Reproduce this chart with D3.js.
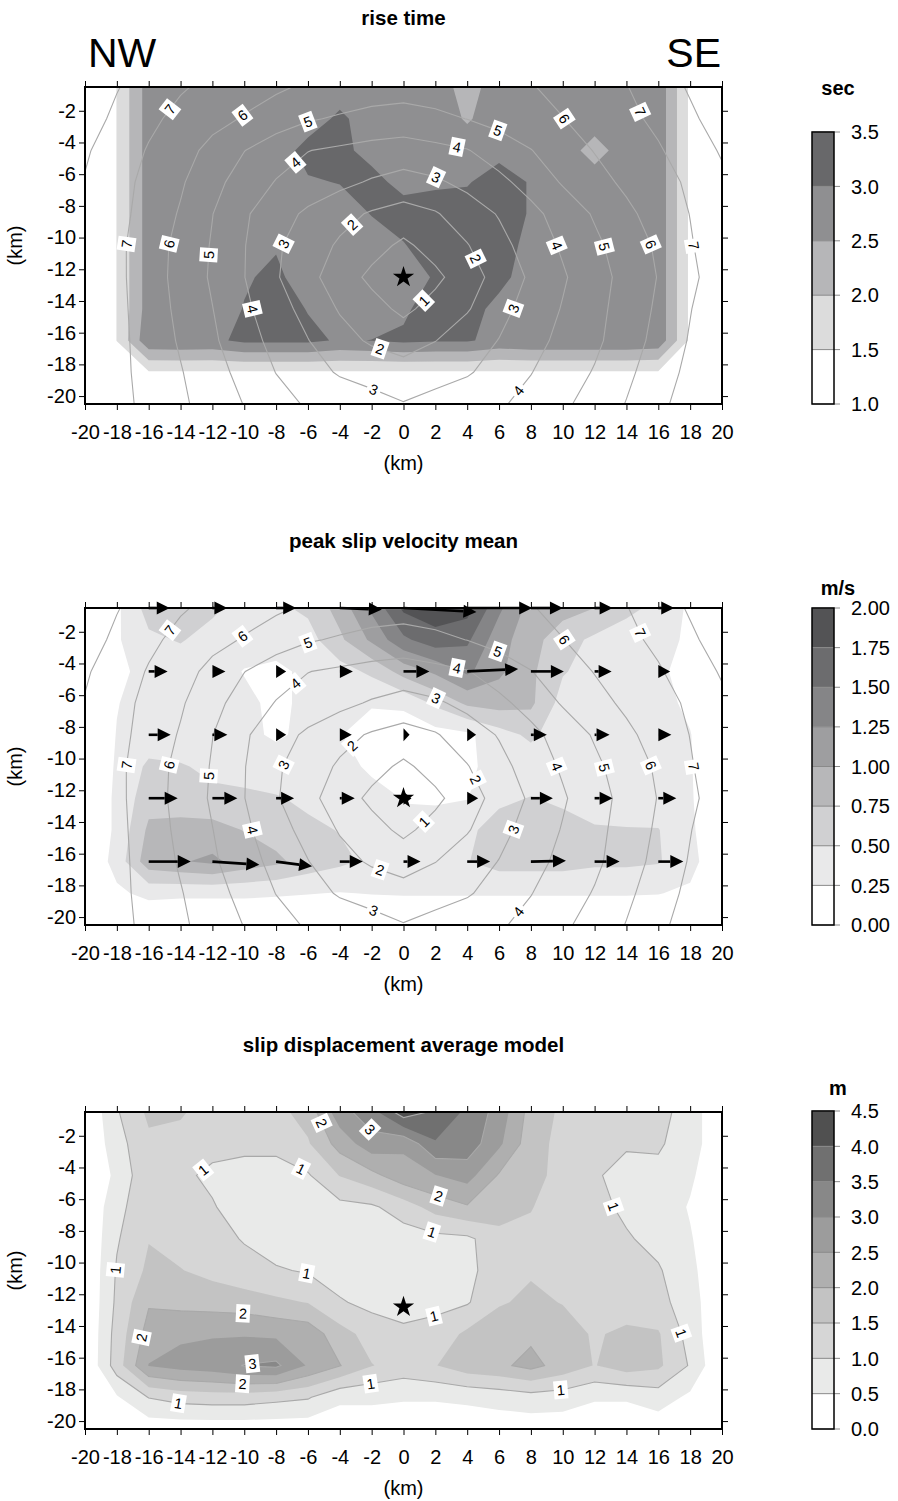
<!DOCTYPE html>
<html>
<head>
<meta charset="utf-8">
<script src="https://cdn.jsdelivr.net/npm/d3@7"></script>
<style>
	body { margin: 0; background: #fff; }
	svg { display: block; font-family: "Liberation Sans", Arial, Helvetica, sans-serif; }
</style>
</head>
<body>
<div id="chart"></div>
<script>
// Grid nodes (km along strike, km depth)
const gridX = [-20, -18, -16, -14, -12, -10, -8, -6, -4, -2, 0, 2, 4, 6, 8, 10, 12, 14, 16, 18, 20];
const gridZ = [-0.5, -2.5, -4.5, -6.5, -8.5, -10.5, -12.5, -14.5, -16.5, -18.5, -20.5];

// rupture time (s), drawn as lines in the two upper panels
const ruptureTime = [
	[8.5, 8.05, 7.57, 7.1, 6.76, 6.45, 6.15, 5.85, 5.7, 5.55, 5.45, 5.55, 5.65, 5.8, 5.95, 6.24, 6.6, 6.96, 7.55, 8.1, 8.6],
	[8.4, 7.81, 7.22, 6.72, 6.32, 5.92, 5.51, 5.1, 4.88, 4.65, 4.55, 4.75, 5.02, 5.33, 5.66, 5.98, 6.37, 6.75, 7.22, 7.84, 8.4],
	[8.1, 7.57, 6.92, 6.41, 5.7, 5.02, 4.44, 4.02, 3.85, 3.7, 3.6, 3.75, 3.95, 4.47, 4.97, 5.53, 6.04, 6.47, 6.9, 7.48, 8.1],
	[7.95, 7.36, 6.73, 6.12, 5.3, 4.57, 3.95, 3.6, 3.26, 2.9, 2.6, 2.85, 3.27, 3.76, 4.37, 5.09, 5.66, 6.19, 6.65, 7.15, 7.8],
	[7.95, 7.3, 6.62, 5.91, 5.02, 4.13, 3.43, 2.82, 2.31, 1.9, 1.64, 1.92, 2.49, 3.07, 3.73, 4.41, 5.1, 5.79, 6.41, 7.02, 7.6],
	[7.9, 7.22, 6.48, 5.72, 4.92, 4.04, 3.14, 2.47, 1.87, 1.37, 0.8, 1.4, 1.95, 2.69, 3.43, 4.13, 4.8, 5.47, 6.15, 6.92, 7.6],
	[7.95, 7.23, 6.46, 5.68, 4.87, 4.02, 3.09, 2.28, 1.52, 0.77, 0, 0.77, 1.56, 2.36, 3.15, 3.89, 4.6, 5.32, 6.04, 6.8, 7.5],
	[7.95, 7.26, 6.52, 5.77, 5.02, 4.2, 3.42, 2.65, 1.92, 1.38, 0.77, 1.38, 1.92, 2.68, 3.4, 4.06, 4.71, 5.41, 6.16, 6.96, 7.7],
	[7.95, 7.28, 6.59, 5.89, 5.15, 4.41, 3.7, 3.03, 2.34, 1.87, 1.6, 1.98, 2.51, 3.03, 3.66, 4.25, 4.8, 5.52, 6.31, 7.08, 7.8],
	[7.95, 7.27, 6.67, 6.06, 5.38, 4.69, 3.98, 3.39, 2.9, 2.65, 2.38, 2.63, 2.9, 3.4, 3.97, 4.51, 5.07, 5.79, 6.52, 7.25, 7.9],
	[7.9, 7.31, 6.74, 6.17, 5.58, 4.97, 4.36, 3.89, 3.6, 3.33, 3.05, 3.33, 3.6, 3.88, 4.31, 4.82, 5.4, 6.04, 6.75, 7.46, 7.9],
];
const ruptureLevels = [1, 2, 3, 4, 5, 6, 7, 8];

// rise time (s)
const riseTime = [
	[0, 1.52, 2.75, 2.75, 2.75, 2.75, 2.75, 2.75, 2.75, 2.75, 2.75, 2.75, 2.3, 2.75, 2.75, 2.75, 2.75, 2.75, 2.85, 1.4, 0],
	[0, 1.52, 2.75, 2.75, 2.75, 2.75, 2.75, 2.75, 3.1, 2.75, 2.75, 2.75, 2.45, 2.75, 2.75, 2.75, 2.75, 2.75, 2.85, 1.4, 0],
	[0, 1.52, 2.75, 2.75, 2.75, 2.75, 2.75, 3.17, 3.2, 2.75, 2.75, 2.75, 2.75, 2.8, 2.75, 2.75, 2.3, 2.75, 2.85, 1.4, 0],
	[0, 1.52, 2.75, 2.75, 2.75, 2.75, 2.75, 2.95, 3.02, 3.25, 2.75, 2.9, 2.95, 3.3, 2.95, 2.75, 2.75, 2.75, 2.85, 1.4, 0],
	[0, 1.52, 2.75, 2.75, 2.75, 2.75, 2.75, 2.75, 2.75, 3.02, 3.35, 3.3, 3.3, 3.3, 2.95, 2.75, 2.75, 2.75, 2.85, 1.4, 0],
	[0, 1.52, 2.75, 2.75, 2.75, 2.75, 2.96, 2.75, 2.75, 2.75, 2.95, 3.45, 3.4, 3.3, 2.8, 2.75, 2.75, 2.75, 2.85, 1.4, 0],
	[0, 1.52, 2.75, 2.75, 2.75, 2.95, 3.1, 2.75, 2.75, 2.75, 2.75, 3.05, 3.3, 3.15, 2.75, 2.75, 2.75, 2.75, 2.85, 1.4, 0],
	[0, 1.52, 2.75, 2.75, 2.75, 3.02, 3.2, 2.98, 2.75, 2.75, 2.9, 3.3, 3.2, 2.85, 2.75, 2.75, 2.75, 2.75, 2.85, 1.4, 0],
	[0, 1.52, 2.9, 2.92, 2.9, 3.1, 3.1, 3.1, 2.95, 3.01, 3.1, 3.05, 3.05, 2.85, 2.92, 2.92, 2.92, 2.92, 2.85, 1.4, 0],
	[0, 0.5, 1.45, 1.45, 1.45, 1.45, 1.45, 1.45, 1.45, 1.45, 1.45, 1.45, 1.45, 1.45, 1.45, 1.45, 1.45, 1.45, 1.45, 0.5, 0],
	[0, 0, 0, 0, 0, 0, 0, 0, 0, 0, 0, 0, 0, 0, 0, 0, 0, 0, 0, 0, 0],
];
const riseLevels = [1.0, 1.5, 2.0, 2.5, 3.0, 3.5];
const riseGrays = ["#ffffff", "#dcdcdc", "#b6b6b8", "#8f8f91", "#68686a"];

// peak slip velocity (m/s)
const peakSlipVelocity = [
	[0, 0.2, 0.6, 0.62, 0.55, 0.4, 0.45, 0.55, 0.85, 1.3, 1.8, 1.9, 1.85, 1.3, 0.9, 0.85, 0.75, 0.55, 0.45, 0.2, 0],
	[0, 0.22, 0.45, 0.52, 0.4, 0.35, 0.35, 0.4, 0.7, 1.05, 1.45, 1.65, 1.55, 1.1, 0.85, 0.6, 0.45, 0.4, 0.35, 0.2, 0],
	[0, 0.2, 0.32, 0.35, 0.35, 0.24, 0.2, 0.3, 0.4, 0.55, 0.85, 1.05, 1.3, 1.05, 0.8, 0.52, 0.4, 0.4, 0.3, 0.15, 0],
	[0, 0.24, 0.35, 0.35, 0.35, 0.3, 0.2, 0.3, 0.35, 0.27, 0.3, 0.55, 0.8, 0.85, 0.8, 0.4, 0.35, 0.35, 0.33, 0.2, 0],
	[0, 0.26, 0.35, 0.35, 0.4, 0.3, 0.22, 0.3, 0.26, 0.15, 0.1, 0.15, 0.2, 0.4, 0.55, 0.35, 0.35, 0.35, 0.35, 0.26, 0],
	[0, 0.28, 0.55, 0.52, 0.45, 0.4, 0.35, 0.35, 0.35, 0.2, 0.1, 0.1, 0.2, 0.35, 0.35, 0.35, 0.35, 0.35, 0.35, 0.27, 0],
	[0, 0.3, 0.65, 0.6, 0.55, 0.55, 0.52, 0.45, 0.4, 0.35, 0.24, 0.22, 0.24, 0.45, 0.51, 0.45, 0.4, 0.4, 0.35, 0.28, 0],
	[0, 0.3, 0.8, 0.85, 0.85, 0.74, 0.65, 0.55, 0.49, 0.35, 0.3, 0.35, 0.45, 0.6, 0.62, 0.6, 0.52, 0.51, 0.51, 0.3, 0],
	[0, 0.35, 0.9, 0.98, 1.05, 0.9, 0.8, 0.65, 0.55, 0.45, 0.35, 0.4, 0.49, 0.6, 0.6, 0.6, 0.55, 0.55, 0.52, 0.35, 0],
	[0, 0.2, 0.32, 0.3, 0.3, 0.3, 0.28, 0.26, 0.24, 0.26, 0.27, 0.27, 0.27, 0.27, 0.27, 0.27, 0.27, 0.27, 0.26, 0.2, 0],
	[0, 0, 0, 0, 0, 0, 0, 0, 0, 0, 0, 0, 0, 0, 0, 0, 0, 0, 0, 0, 0],
];
const psvLevels = [0, 0.25, 0.5, 0.75, 1.0, 1.25, 1.5, 1.75, 2.0];
const psvGrays = ["#ffffff", "#e9e9ea", "#d0d0d2", "#b7b7b9", "#9e9ea0", "#858587", "#6c6c6e", "#535355"];

// slip vectors, drawn every other node
const vecX = [-16, -12, -8, -4, 0, 4, 8, 12, 16];
const vecZ = [-0.5, -4.5, -8.5, -12.5, -16.5];
const vecU = [
	[1.32, 0.94, 1.26, 2.64, 4.58, 4.08, 2.01, 1.13, 1.0],
	[1.19, 0.82, 0.63, 0.82, 1.63, 3.2, 2.07, 1.07, 0.75],
	[1.38, 0.94, 0.63, 0.75, 0.38, 0.56, 1.0, 0.94, 0.82],
	[1.82, 1.57, 1.13, 0.94, 0.5, 0.69, 1.38, 1.13, 1.13],
	[2.64, 2.95, 2.26, 1.44, 1.07, 1.44, 2.2, 1.57, 1.57],
];
const vecV = [
	[0, 0, 0, -0.1, -0.25, 0, 0, 0, 0],
	[0, 0, 0, 0, 0, 0.15, 0, 0, 0],
	[0, 0, 0, 0, 0, 0, 0, 0, 0],
	[0, 0, 0, 0, 0, 0, 0, 0, 0],
	[0, -0.2, -0.3, 0, 0, 0, 0.05, 0, 0],
];

// slip (m)
const slip = [
	[0, 0.95, 1.6, 1.55, 1.3, 1.25, 1.35, 1.7, 2.8, 3.3, 4.3, 3.9, 3.4, 2.8, 1.8, 1.4, 1.2, 1.1, 1.15, 0.8, 0],
	[0, 0.8, 1.4, 1.35, 1.15, 1.1, 1.1, 1.45, 2.2, 2.8, 2.6, 3.45, 3.3, 2.6, 1.7, 1.35, 1.2, 1.05, 1.05, 0.8, 0],
	[0, 0.62, 1.4, 1.1, 0.9, 0.85, 0.85, 0.95, 1.52, 1.85, 2.3, 2.48, 2.7, 1.95, 1.7, 1.3, 1.05, 0.85, 0.9, 0.6, 0],
	[0, 0.85, 1.35, 1.2, 1.04, 0.75, 0.7, 0.75, 0.85, 0.92, 1.25, 1.7, 1.95, 1.8, 1.52, 1.3, 1.15, 0.9, 0.85, 0.45, 0],
	[0, 0.95, 1.48, 1.3, 1.15, 0.97, 0.75, 0.7, 0.7, 0.7, 0.75, 0.85, 0.9, 1.3, 1.4, 1.35, 1.2, 1.05, 0.85, 0.55, 0],
	[0, 1.05, 1.6, 1.52, 1.35, 1.15, 1.05, 0.95, 0.75, 0.7, 0.7, 0.75, 0.85, 1.3, 1.45, 1.4, 1.3, 1.2, 1.05, 0.65, 0],
	[0, 1.1, 1.95, 1.85, 1.8, 1.75, 1.6, 1.48, 1.05, 0.85, 0.8, 0.85, 0.95, 1.45, 1.6, 1.48, 1.3, 1.25, 1.15, 0.75, 0],
	[0, 1.2, 2.2, 2.4, 2.45, 2.45, 2.4, 2.3, 1.7, 1.3, 1.1, 1.2, 1.6, 1.8, 1.9, 1.7, 1.45, 1.6, 1.55, 0.8, 0],
	[0, 1.25, 2.52, 2.7, 2.8, 3.02, 3.1, 2.45, 2.02, 1.52, 1.3, 1.48, 1.8, 1.9, 2.15, 1.8, 1.48, 1.75, 1.6, 0.95, 0],
	[0, 0.45, 1.02, 1.2, 1.25, 1.25, 1.15, 1.05, 0.6, 0.6, 0.55, 0.55, 0.6, 0.7, 0.8, 0.75, 0.55, 0.55, 0.74, 0.4, 0],
	[0, 0, 0.2, 0.2, 0.2, 0.2, 0.2, 0.2, 0.2, 0.2, 0.2, 0.2, 0.2, 0.2, 0.2, 0.2, 0.2, 0.2, 0.2, 0, 0],
];
const slipLevels = [0, 0.5, 1.0, 1.5, 2.0, 2.5, 3.0, 3.5, 4.0, 4.5];
const slipGrays = ["#ffffff", "#e9eae9", "#d6d6d6", "#c3c3c3", "#afafaf", "#9c9c9c", "#888888", "#707070", "#505050"];
const slipLineLevels = [1, 2, 3, 4];

// label anchors: [level, x, z]
const ruptureLabels = [
	[7, -14.8, -1.8], [6, -10.1, -2.3], [5, -6.0, -2.7], [4, -6.5, -5.6], [3, 1.95, -6.4],
	[4, 3.3, -4.6], [5, 5.9, -3.3], [6, 10.1, -2.5], [7, 15, -2.0], [2, -3.4, -9.0],
	[7, -17.4, -10.4], [6, -14.7, -10.4], [5, -12.1, -11.1], [3, -7.3, -10.5], [2, 4.6, -11.3],
	[4, 9.6, -10.5], [5, 12.5, -10.6], [6, 15.6, -10.4], [7, 18.3, -10.5], [1, 1.2, -13.9],
	[4, -9.5, -14.5], [3, 7.0, -14.5], [2, -1.5, -17.1], [3, -2.0, -19.9], [4, 7.4, -19.8],
];
const slipLabels = [
	[2, -5.6, -1.4], [3, -1.9, -1.4], [1, -12.7, -4.0], [1, -6.3, -3.8], [2, 2.4, -5.2],
	[1, 1.9, -7.7], [1, -6.1, -10.8], [1, -17.7, -10.5], [1, 1.9, -13.3], [2, -10.1, -13.6],
	[2, -16.6, -14.7], [3, -9.5, -16.3], [2, -10.1, -17.5], [1, -14.1, -18.7], [1, -2.1, -17.4],
	[1, 13.4, -6.4], [1, 17.3, -14.5], [1, 9.9, -18.3],
];

const hypoX = 0;
const hypoZ = [-12.5, -12.5, -12.8];

const W = 898;
const H = 1501;
const plotLeft = 85;
const plotRight = 722;
const plotH = 317;
const barX = 812;
const barW = 22;
const fontStack = "Liberation Sans, Arial, Helvetica, sans-serif";

const panels = [
	{ top: 87, title: "rise time", titleY: 18, field: riseTime, levels: riseLevels, grays: riseGrays, fmt: d3.format(".1f"), unit: "sec", unitY: 88, barTop: 132, lineField: ruptureTime, lineLevels: ruptureLevels, labels: ruptureLabels },
	{ top: 608, title: "peak slip velocity mean", titleY: 541, field: peakSlipVelocity, levels: psvLevels, grays: psvGrays, fmt: d3.format(".2f"), unit: "m/s", unitY: 588, barTop: 608, lineField: ruptureTime, lineLevels: ruptureLevels, labels: ruptureLabels, vectors: true },
	{ top: 1112, title: "slip displacement average model", titleY: 1045, field: slip, levels: slipLevels, grays: slipGrays, fmt: d3.format(".1f"), unit: "m", unitY: 1088, barTop: 1111, lineField: slip, lineLevels: slipLineLevels, labels: slipLabels },
];

const x = d3.scaleLinear().domain([-20, 20]).range([plotLeft, plotRight]);

const svg = d3.select("#chart").append("svg").attr("width", W).attr("height", H);

const nx = gridX.length;
const nz = gridZ.length;
const stepX = gridX[1] - gridX[0];
const stepZ = gridZ[1] - gridZ[0];
const contourGen = d3.contours().size([nx, nz]);

// d3.contours puts node i at coordinate i + 0.5
const toPixel = (y) => (p) => [x(gridX[0] + (p[0] - 0.5) * stepX), y(gridZ[0] + (p[1] - 0.5) * stepZ)];

const pathOf = (geom, px) =>
	geom.coordinates
		.flat()
		.map((ring) => "M" + ring.map((p) => px(p).join(",")).join("L") + "Z")
		.join("");

panels.forEach((P, k) => {
	const bottom = P.top + plotH;
	const y = d3.scaleLinear().domain([-20.5, -0.5]).range([bottom, P.top]);
	const px = toPixel(y);
	const flat = P.field.flat();
	const lineFlat = P.lineField.flat();

	svg.append("clipPath").attr("id", `clip${k}`)
		.append("rect").attr("x", plotLeft).attr("y", P.top).attr("width", plotRight - plotLeft).attr("height", plotH);

	const g = svg.append("g").attr("clip-path", `url(#clip${k})`);
	g.append("rect").attr("x", plotLeft).attr("y", P.top).attr("width", plotRight - plotLeft).attr("height", plotH).attr("fill", "#fff");

	// filled bands
	P.levels.slice(1, -1).forEach((lv, i) => {
		g.append("path")
			.attr("d", pathOf(contourGen.contour(flat, lv), px))
			.attr("fill", P.grays[i + 1])
			.attr("fill-rule", "evenodd");
	});

	// contour lines
	const lineGeoms = P.lineLevels.map((lv) => contourGen.contour(lineFlat, lv));
	lineGeoms.forEach((geom) => {
		g.append("path")
			.attr("d", pathOf(geom, px))
			.attr("fill", "none")
			.attr("stroke", "#a9a9a9")
			.attr("stroke-width", 1.1);
	});

	// line labels snapped to their contour
	const inside = (p) => p[0] >= plotLeft - 1 && p[0] <= plotRight + 1 && p[1] >= P.top - 1 && p[1] <= bottom + 1;
	const lab = svg.append("g");
	P.labels.forEach(([lv, lx, lz]) => {
		const geom = lineGeoms[P.lineLevels.indexOf(lv)];
		const target = [x(lx), y(lz)];
		let best = null;
		geom.coordinates.flat().forEach((ring) => {
			const pts = ring.map(px);
			for (let i = 0; i < pts.length - 1; i++) {
				const a = pts[i];
				const b = pts[i + 1];
				if (!inside(a) || !inside(b)) continue;
				const dx = b[0] - a[0];
				const dy = b[1] - a[1];
				const len2 = dx * dx + dy * dy || 1;
				const t = Math.max(0, Math.min(1, ((target[0] - a[0]) * dx + (target[1] - a[1]) * dy) / len2));
				const q = [a[0] + t * dx, a[1] + t * dy];
				const d = Math.hypot(q[0] - target[0], q[1] - target[1]);
				if (!best || d < best.d) best = { d, q, ang: (Math.atan2(dy, dx) * 180) / Math.PI };
			}
		});
		if (!best) return;
		let ang = best.ang;
		if (ang > 90) ang -= 180;
		if (ang < -90) ang += 180;
		const lg = lab.append("g").attr("transform", `translate(${best.q[0]},${best.q[1]}) rotate(${ang})`);
		lg.append("rect").attr("x", -7).attr("y", -9).attr("width", 14).attr("height", 18).attr("fill", "#fff");
		lg.append("text")
			.attr("text-anchor", "middle")
			.attr("dy", "0.36em")
			.attr("font-size", 14.5)
			.text(lv);
	});

	// slip vectors
	if (P.vectors) {
		const vg = svg.append("g").attr("fill", "#000").attr("stroke", "#000");
		vecZ.forEach((vz, j) => {
			vecX.forEach((vx, i) => {
				const p0 = [x(vx), y(vz)];
				const p1 = [x(vx + vecU[j][i]), y(vz + vecV[j][i])];
				const L = Math.hypot(p1[0] - p0[0], p1[1] - p0[1]);
				const ux = (p1[0] - p0[0]) / L;
				const uy = (p1[1] - p0[1]) / L;
				const hl = Math.min(13, L);
				const hw = 6.5;
				const base = [p1[0] - ux * hl, p1[1] - uy * hl];
				if (L > hl) {
					vg.append("line")
						.attr("x1", p0[0]).attr("y1", p0[1])
						.attr("x2", base[0]).attr("y2", base[1])
						.attr("stroke-width", 2.6);
				}
				vg.append("path")
					.attr("stroke", "none")
					.attr("d", `M${p1[0]},${p1[1]}L${base[0] - uy * hw},${base[1] + ux * hw}L${base[0] + uy * hw},${base[1] - ux * hw}Z`);
			});
		});
	}

	// hypocentre
	svg.append("path")
		.attr("d", d3.symbol(d3.symbolStar, 140)())
		.attr("transform", `translate(${x(hypoX)},${y(hypoZ[k])})`)
		.attr("fill", "#000");

	// frame and axes
	const ticks = d3.range(-20, 21, 2);
	const zTicks = d3.range(-2, -21, -2);
	const axisStyle = (sel) => sel
		.attr("font-size", 20)
		.attr("font-family", fontStack)
		.call((s) => s.select(".domain").remove());

	svg.append("g").attr("transform", `translate(0,${bottom})`)
		.call(d3.axisBottom(x).tickValues(ticks).tickSize(6).tickPadding(15).tickFormat((d) => String(d)))
		.call(axisStyle);
	svg.append("g").attr("transform", `translate(0,${P.top})`)
		.call(d3.axisTop(x).tickValues(ticks).tickSize(6).tickFormat(""))
		.call(axisStyle);
	svg.append("g").attr("transform", `translate(${plotLeft},0)`)
		.call(d3.axisLeft(y).tickValues(zTicks).tickSize(6).tickPadding(3).tickFormat((d) => String(d)))
		.call(axisStyle);
	svg.append("g").attr("transform", `translate(${plotRight},0)`)
		.call(d3.axisRight(y).tickValues(zTicks).tickSize(6).tickFormat(""))
		.call(axisStyle);

	svg.append("rect")
		.attr("x", plotLeft).attr("y", P.top)
		.attr("width", plotRight - plotLeft).attr("height", plotH)
		.attr("fill", "none").attr("stroke", "#000").attr("stroke-width", 2);

	svg.append("text")
		.attr("x", x(0)).attr("y", bottom + 66)
		.attr("text-anchor", "middle").attr("font-size", 20)
		.text("(km)");
	svg.append("text")
		.attr("transform", `translate(22,${P.top + plotH / 2}) rotate(-90)`)
		.attr("text-anchor", "middle").attr("font-size", 20)
		.text("(km)");

	svg.append("text")
		.attr("x", x(0)).attr("y", P.titleY + 7)
		.attr("text-anchor", "middle").attr("font-size", 20.5).attr("font-weight", "bold")
		.text(P.title);

	// colour bar
	const cb = d3.scaleLinear().domain(d3.extent(P.levels)).range([bottom, P.barTop]);
	const bar = svg.append("g");
	P.grays.forEach((c, i) => {
		bar.append("rect")
			.attr("x", barX).attr("y", cb(P.levels[i + 1]))
			.attr("width", barW).attr("height", cb(P.levels[i]) - cb(P.levels[i + 1]))
			.attr("fill", c);
	});
	P.levels.forEach((lv) => {
		bar.append("line")
			.attr("x1", barX).attr("x2", barX + barW + 6)
			.attr("y1", cb(lv)).attr("y2", cb(lv))
			.attr("stroke", "#8a8a8a").attr("stroke-width", 1);
		bar.append("text")
			.attr("x", barX + barW + 17).attr("y", cb(lv)).attr("dy", "0.36em")
			.attr("font-size", 20)
			.text(P.fmt(lv));
	});
	bar.append("rect")
		.attr("x", barX).attr("y", P.barTop)
		.attr("width", barW).attr("height", bottom - P.barTop)
		.attr("fill", "none").attr("stroke", "#000").attr("stroke-width", 1.5);
	bar.append("text")
		.attr("x", barX + 26).attr("y", P.unitY + 7)
		.attr("text-anchor", "middle").attr("font-size", 20).attr("font-weight", "bold")
		.text(P.unit);
});

svg.append("text").attr("x", 88).attr("y", 67).attr("font-size", 41).text("NW");
svg.append("text").attr("x", 721).attr("y", 67).attr("text-anchor", "end").attr("font-size", 41).text("SE");
</script>
</body>
</html>
